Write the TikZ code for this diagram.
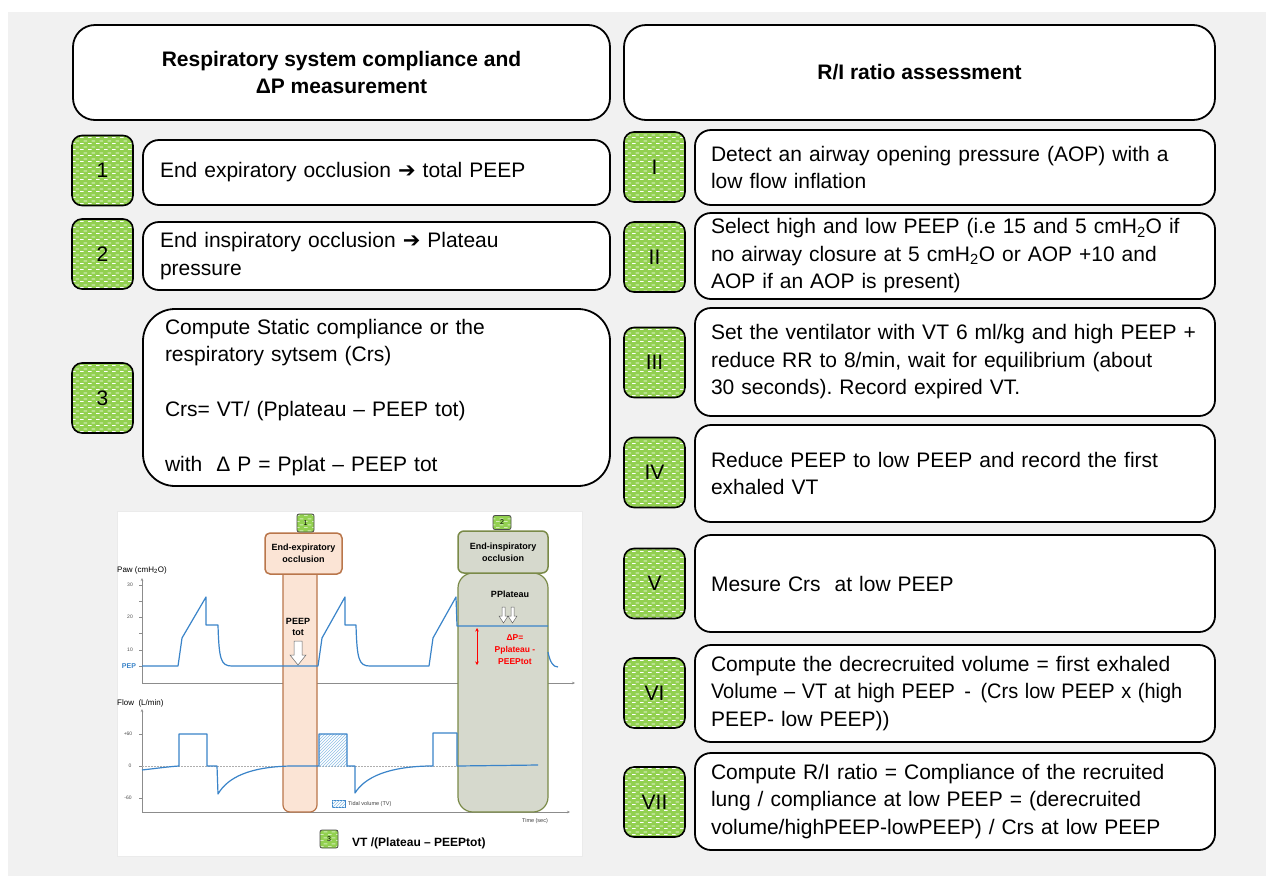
\documentclass[tikz,border=0pt]{standalone}
\usepackage{fontspec}
\setmainfont{Liberation Sans}
\newfontfamily\djv{DejaVu Sans}
\usetikzlibrary{patterns,arrows.meta}
\definecolor{bgc}{HTML}{F1F1F1}
\definecolor{sqgreen}{HTML}{92D050}
\definecolor{curve}{HTML}{3A84C9}
\definecolor{pkfill}{HTML}{FBE4D5}
\definecolor{pkdraw}{HTML}{B9764B}
\definecolor{olfill}{HTML}{D6D9CD}
\definecolor{oldraw}{HTML}{7A8A48}
\definecolor{axisc}{HTML}{8C8C8C}
\definecolor{tvblue}{HTML}{8EBFE6}
\pgfdeclarepatternformonly{greendash}{\pgfqpoint{0pt}{0pt}}{\pgfqpoint{8pt}{6pt}}{\pgfqpoint{8pt}{6pt}}{%
  \pgfpathrectangle{\pgfqpoint{0pt}{0pt}}{\pgfqpoint{4pt}{1pt}}%
  \pgfpathrectangle{\pgfqpoint{4pt}{3pt}}{\pgfqpoint{4pt}{1pt}}%
  \pgfusepath{fill}}
\tikzset{
  stepbox/.style={draw=black, line width=1.8pt, fill=white, rounded corners=16pt,
    inner xsep=16pt, inner ysep=0pt, align=left, font=\fontsize{21}{27.5}\selectfont},
  headbox/.style={draw=black, line width=1.8pt, fill=white, rounded corners=22pt,
    align=center, font=\bfseries\fontsize{21}{27}\selectfont},
  numsq/.style={draw=black, line width=1.6pt, rounded corners=10pt,
    preaction={fill=sqgreen}, preaction={pattern=greendash, pattern color=white},
    minimum width=61pt, minimum height=70pt, inner sep=0pt, font=\fontsize{21}{25}\selectfont},
  smallsq/.style={draw=black!70, line width=0.8pt, rounded corners=2pt,
    preaction={fill=sqgreen}, preaction={pattern=greendash, pattern color=white!60!sqgreen},
    minimum width=17pt, minimum height=17pt, inner sep=0pt, font=\fontsize{7}{8}\selectfont},
  curvest/.style={draw=curve, line width=1.2pt, line join=round},
  axisst/.style={draw=axisc, line width=0.6pt, -{Stealth[length=3pt,width=2.5pt]}},
  ticklab/.style={font=\fontsize{5}{6}\selectfont, text=black!70, inner sep=0pt},
  chartbold/.style={font=\bfseries\fontsize{9}{12}\selectfont, align=center, inner sep=0pt},
}
\begin{document}
\frenchspacing
\begin{tikzpicture}[x=1pt,y=-1pt]
\useasboundingbox (0,0) rectangle (1266,876);
\fill[white] (0,0) rectangle (1266,876);
\fill[bgc] (8,12) rectangle (1266,876);

% headers
\node[headbox, minimum width=537pt, minimum height=95pt] (hl) at (341.5,72.5)
  {Respiratory system compliance and\\ ΔP measurement};
\node[headbox, minimum width=591pt, minimum height=95pt] (hr) at (919.5,72.5)
  {R/I ratio assessment};

% left steps
\node[numsq] (s1) at (102.5,170.5) {1};
\node[numsq] (s2) at (102.5,254) {2};
\node[numsq] (s3) at (102.5,398) {3};
\node[stepbox, inner xsep=17pt, minimum width=467pt, text width=433pt, minimum height=65pt] (b1) at (376.5,172.5)
  {End expiratory occlusion {\djv ➔} total PEEP};
\node[stepbox, inner xsep=17pt, minimum width=467pt, text width=433pt, minimum height=68pt] (b2) at (376.5,256)
  {End inspiratory occlusion {\djv ➔} Plateau\\ pressure};
\node[stepbox, rounded corners=32pt, inner xsep=22pt, minimum width=467pt, text width=423pt, minimum height=177pt] (b3) at (376.5,397.5)
  {Compute Static compliance or the\\ respiratory sytsem (Crs)\\[27.5pt] Crs= VT/ (Pplateau – PEEP tot)\\[27.5pt] with\ \ Δ P = Pplat – PEEP tot};

% right steps
\node[numsq] (r1) at (654.5,167) {I};
\node[numsq] (r2) at (654.5,257) {II};
\node[numsq] (r3) at (654.5,362.5) {III};
\node[numsq] (r4) at (654.5,472.5) {IV};
\node[numsq] (r5) at (654.5,583.5) {V};
\node[numsq] (r6) at (654.5,693) {VI};
\node[numsq] (r7) at (654.5,802) {VII};
\node[stepbox, minimum width=520pt, text width=488pt, minimum height=75pt] (c1) at (955,167.5)
  {Detect an airway opening pressure (AOP) with a\\ low flow inflation};
\node[stepbox, minimum width=520pt, text width=488pt, minimum height=86pt] (c2) at (955,256)
  {Select high and low PEEP (i.e 15 and 5 cmH\textsubscript{2}O if\\ no airway closure at 5 cmH\textsubscript{2}O or AOP +10 and\\ AOP if an AOP is present)};
\node[stepbox, minimum width=520pt, text width=488pt, minimum height=108pt] (c3) at (955,362)
  {Set the ventilator with VT 6 ml/kg and high PEEP +\\ reduce RR to 8/min, wait for equilibrium (about\\ 30 seconds). Record expired VT.};
\node[stepbox, minimum width=520pt, text width=488pt, minimum height=97pt] (c4) at (955,473.5)
  {Reduce PEEP to low PEEP and record the first\\ exhaled VT};
\node[stepbox, minimum width=520pt, text width=488pt, minimum height=97pt] (c5) at (955,583.5)
  {Mesure Crs\ \ at low PEEP};
\node[stepbox, minimum width=520pt, text width=488pt, minimum height=97pt] (c6) at (955,693.5)
  {Compute the decrecruited volume = first exhaled\\ \scalebox{0.95}[1]{Volume – VT at high PEEP\hspace{10pt}-\hspace{10pt}(Crs low PEEP x (high}\\ PEEP- low PEEP))};
\node[stepbox, minimum width=520pt, text width=488pt, minimum height=97pt] (c7) at (955,801.5)
  {Compute R/I ratio = Compliance of the recruited\\ lung / compliance at low PEEP = (derecruited\\ volume/highPEEP-lowPEEP) / Crs at low PEEP};

% ---------- chart ----------
\filldraw[fill=white, draw=black!8, line width=0.6pt] (117,511) rectangle (582,856);

% axes
\draw[axisst] (142,683) -- (142,578);
\draw[axisst] (142,683) -- (575,683);
\draw[axisst] (142,812) -- (142,709);
\draw[axisst] (142,812) -- (570,812);
\foreach \yy in {585,601,617,633,650,666} \draw[axisc, line width=0.4pt] (139,\yy) -- (142,\yy);
\foreach \yy in {734,766,798} \draw[axisc, line width=0.4pt] (139,\yy) -- (142,\yy);
\node[ticklab] (t30) at (130,585) {30};
\node[ticklab] (t20) at (130,617) {20};
\node[ticklab] (t10) at (130,650) {10};
\node[font=\bfseries\fontsize{7}{8}\selectfont, text=curve, inner sep=0pt] (pep) at (129,666) {PEP};
\node[ticklab] (fp60) at (128,734) {+60};
\node[ticklab] (f0) at (130,766) {0};
\node[ticklab] (fm60) at (128,798) {-60};
\node[anchor=west, font=\fontsize{8}{9}\selectfont, inner sep=0pt] (paw) at (117,570) {Paw (cmH\textsubscript{2}O)};
\node[anchor=west, font=\fontsize{8}{9}\selectfont, inner sep=0pt] (flow) at (117,703) {Flow\ \ (L/min)};
\node[font=\fontsize{5.5}{6}\selectfont, text=black!75, inner sep=0pt] (time) at (535,821) {Time (sec)};
\draw[axisc!70, dash pattern=on 1.5pt off 1.5pt, line width=0.5pt] (142,766) -- (540,766);

% columns
\filldraw[fill=pkfill, draw=pkdraw, line width=1.2pt, rounded corners=7pt] (283,570) |- (317,812) -- (317,570);
\filldraw[fill=olfill, draw=oldraw, line width=1.2pt, rounded corners=15pt] (458,573) rectangle (548,812);
\node[draw=pkdraw, fill=pkfill, line width=1.5pt, rounded corners=5pt, minimum width=77pt, minimum height=41pt,
  chartbold] (eeo) at (303.5,553.5) {End-expiratory\\occlusion};
\node[draw=oldraw, fill=olfill, line width=1.5pt, rounded corners=6pt, minimum width=90pt, minimum height=42pt,
  chartbold] (eio) at (503,552) {End-inspiratory\\occlusion};
\node[smallsq, minimum height=18pt] (n1) at (305.5,523) {1};
\node[smallsq, minimum width=18pt, minimum height=14pt] (n2) at (502,522.5) {2};

% tidal volume hatch
\fill[pattern=north east lines, pattern color=tvblue] (319,734) rectangle (347,766);

% pressure curve
\draw[curvest] (142,666) -- (178,666) -- (182,638) -- (206,597) -- (206,625) -- (218,625)
  .. controls (219,660) and (221,666) .. (232,666) -- (318,666) -- (322,638) -- (345,597) -- (345,625) -- (356,625)
  .. controls (357,660) and (359,666) .. (370,666) -- (429,666) -- (433,638) -- (456,597) -- (457,626) -- (548,626);
\draw[curvest] (548,652) .. controls (550,662) and (553,667) .. (558,667);

% flow curve
\draw[curvest] (142,770) .. controls (155,768.5) and (170,766.5) .. (179,766) -- (179,734) -- (207,734) -- (207,766)
  -- (217,766) -- (218,794) .. controls (228,777) and (250,767) .. (290,766) -- (319,766) -- (319,734) -- (347,734)
  -- (347,766) -- (355,766) -- (355,793) .. controls (365,777) and (388,767) .. (428,766) -- (433,766) -- (433,733)
  -- (457,733) -- (457,766) -- (538,765);

% labels in columns
\node[chartbold] (peeptot) at (298,626.5) {PEEP\\[-1pt]tot};
\filldraw[fill=white, draw=black!60, line width=0.5pt] (294,641) -- (302,641) -- (302,655) -- (306,655) -- (298,665) -- (290,655) -- (294,655) -- cycle;
\node[chartbold] (ppl) at (510,594) {PPlateau};
\foreach \cx in {503.5,512.5}
  \filldraw[fill=white, draw=black!60, line width=0.5pt] ({\cx-1.5},607) -- ({\cx+1.5},607) -- ({\cx+1.5},616) -- ({\cx+4.5},616) -- (\cx,623) -- ({\cx-4.5},616) -- ({\cx-1.5},616) -- cycle;
\draw[red, line width=0.9pt, {Stealth[length=3.5pt,width=3.5pt]}-{Stealth[length=3.5pt,width=3.5pt]}] (477,628) -- (477,665);
\node[chartbold, text=red, font=\bfseries\fontsize{8.5}{12}\selectfont] (dp) at (515,650) {ΔP=\\Pplateau -\\PEEPtot};

% legend
\filldraw[fill=white, draw=curve, line width=0.6pt, postaction={pattern=north east lines, pattern color=tvblue}] (332,800) rectangle (345,807);
\node[anchor=west, font=\fontsize{5.5}{6}\selectfont, text=black!75, inner sep=0pt] (tvl) at (348,804) {Tidal volume (TV)};

% bottom formula
\node[smallsq, minimum width=18pt, minimum height=18pt] (n3) at (329,839) {3};
\node[anchor=west, font=\bfseries\fontsize{12}{14}\selectfont, inner sep=0pt] (vtf) at (352,843) {VT /(Plateau – PEEPtot)};
\end{tikzpicture}
\end{document}
